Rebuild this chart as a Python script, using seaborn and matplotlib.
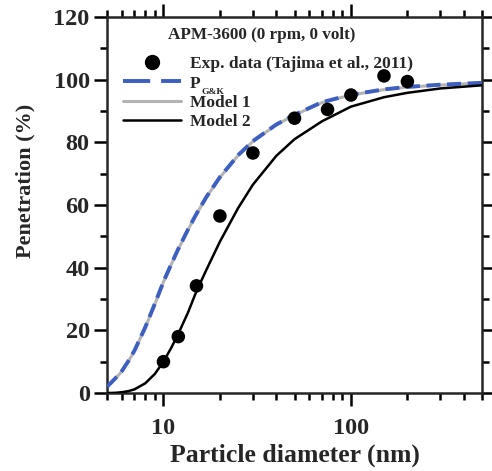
import matplotlib
matplotlib.use("Agg")
import matplotlib.pyplot as plt
from matplotlib.lines import Line2D
from matplotlib.ticker import LogLocator, FixedLocator, NullFormatter, MultipleLocator
import seaborn as sns
import pandas as pd

# Measured penetration (Tajima et al., 2011)
exp_diam = [10, 12, 15, 20, 30, 50, 75, 100, 150, 200]
exp_pen = [10.0, 18.0, 34.2, 56.5, 76.6, 87.7, 90.5, 95.1, 101.2, 99.4]

# Model curves, particle diameter (nm) vs penetration (%)
curve_diam = [5, 5.5, 6, 6.5, 7, 8, 9, 10, 11, 12, 13.5, 15, 17, 20, 25, 30, 40,
              50, 70, 100, 150, 200, 300, 500]
pgk_pen = [2.0, 4.5, 7.0, 10.2, 13.5, 21.0, 28.5, 35.5, 41.1, 46.0, 52.1, 57.2, 62.7,
           68.9, 75.9, 80.4, 85.7, 88.8, 92.8, 95.2, 96.9, 97.7, 98.4, 99.0]
model1_pen = [1.9, 4.4, 6.9, 10.1, 13.4, 20.9, 28.4, 35.4, 41.0, 45.9, 52.0, 57.1, 62.6,
              68.8, 75.8, 80.3, 85.6, 88.7, 92.7, 95.1, 96.8, 97.6, 98.3, 98.9]
model2_pen = [0.0, 0.05, 0.25, 0.6, 1.15, 3.1, 6.1, 10.0, 14.4, 18.9, 25.6, 32.5, 39.5,
              48.3, 59.0, 66.5, 75.7, 81.0, 86.7, 91.4, 94.4, 95.8, 97.2, 98.2]

BLUE = "#3d5fc0"
GREY = "#b4b4b4"

sns.set_theme(style="ticks")
plt.rcParams["font.family"] = ["Liberation Serif", "DejaVu Serif"]
plt.rcParams["font.weight"] = "bold"

fig = plt.figure(figsize=(4.92, 4.71), dpi=100)
ax = fig.add_axes([0.2175, 0.1656, 0.7622, 0.7983])

curves = pd.DataFrame({"d": curve_diam, "pgk": pgk_pen, "m1": model1_pen, "m2": model2_pen})
exp_df = pd.DataFrame({"d": exp_diam, "p": exp_pen})

sns.lineplot(data=curves, x="d", y="m1", ax=ax, color=GREY, lw=2.2, zorder=2)
sns.lineplot(data=curves, x="d", y="pgk", ax=ax, color=BLUE, lw=2.8, zorder=3)
ax.lines[-1].set_dashes([3.6, 1.7])
sns.lineplot(data=curves, x="d", y="m2", ax=ax, color="black", lw=1.8, zorder=3)
sns.scatterplot(data=exp_df, x="d", y="p", ax=ax, color="black", s=95,
                edgecolor="none", zorder=4)

ax.set_xscale("log")
ax.set_xlim(5, 500)
ax.set_ylim(0, 120)

ax.xaxis.set_major_locator(FixedLocator([10, 100]))
ax.xaxis.set_minor_locator(LogLocator(base=10, subs=range(2, 10)))
ax.xaxis.set_minor_formatter(NullFormatter())
ax.set_xticklabels(["10", "100"])
ax.yaxis.set_major_locator(MultipleLocator(20))
ax.yaxis.set_minor_locator(MultipleLocator(10))

for s in ax.spines.values():
    s.set_linewidth(1.8)
    s.set_visible(True)
ax.tick_params(which="both", direction="out", top=True, right=True,
               labeltop=False, labelright=False, width=1.8, color="black")
ax.tick_params(which="major", length=9.5, labelsize=17.5, pad=3)
ax.tick_params(axis="x", which="major", pad=8.5)
ax.tick_params(which="minor", length=5)
for lab in ax.get_xticklabels() + ax.get_yticklabels():
    lab.set_fontweight("bold")

ax.set_xlabel("Particle diameter (nm)", fontsize=18.5, fontweight="bold", labelpad=3)
ax.set_ylabel("Penetration (%)", fontsize=16, fontweight="bold")
ax.yaxis.set_label_coords(-0.19, 0.564)

# legend heading
ax.text(0.413, 0.951, "APM-3600 (0 rpm, 0 volt)", transform=ax.transAxes,
        ha="center", va="center", fontsize=12.3, fontweight="bold")

handles = [
    Line2D([], [], marker="o", ls="none", color="black", markersize=10),
    Line2D([], [], color=BLUE, lw=2.8, dashes=[7, 2.8]),
    Line2D([], [], color=GREY, lw=2.2),
    Line2D([], [], color="black", lw=1.8),
]
labels = ["Exp. data (Tajima et al., 2011)", "P", "Model 1", "Model 2"]
leg = ax.legend(handles, labels, loc="upper left",
                bbox_to_anchor=(0.025, 0.914), frameon=False, handlelength=3.3,
                handletextpad=0.55, labelspacing=0.17, borderaxespad=0,
                prop={"size": 12.5, "weight": "bold"})

# subscript "G&K" attached to the "P" entry
p_text = leg.get_texts()[1]
fig.canvas.draw()
bb = p_text.get_window_extent()
inv = fig.transFigure.inverted()
x0, y0 = inv.transform((bb.x1 + 0.5, bb.y0 + 4))
fig.text(x0, y0, "G&K", fontsize=6.8, fontweight="bold", ha="left", va="top")

fig.savefig("out.png", dpi=100)
